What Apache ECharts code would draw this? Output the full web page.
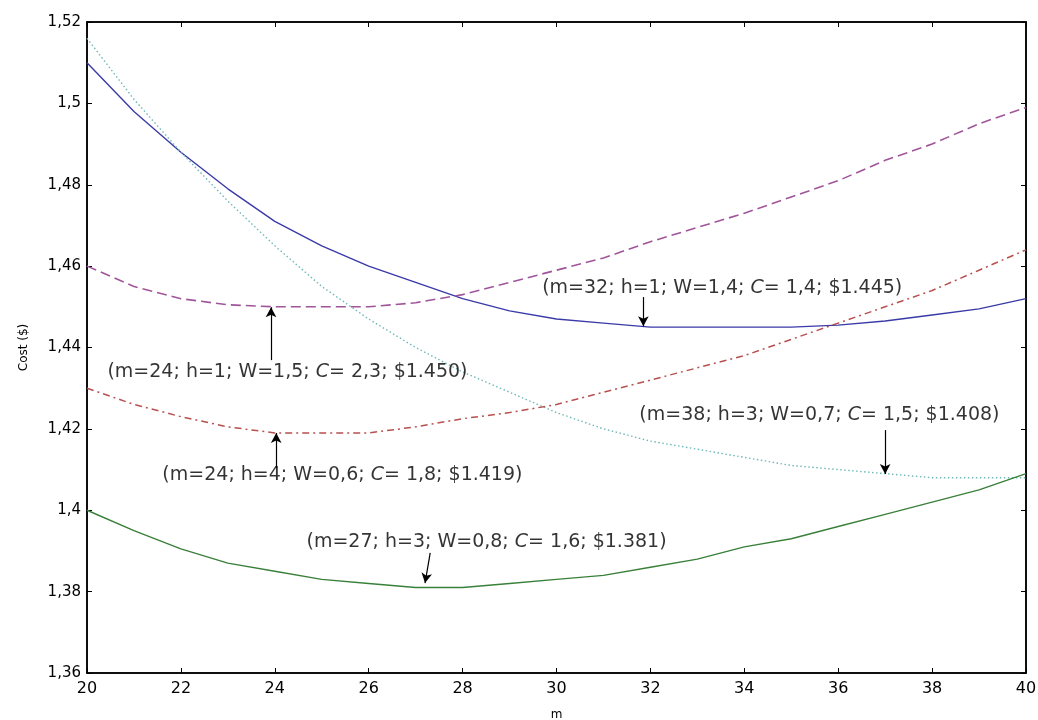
<!DOCTYPE html>
<html>
<head>
<meta charset="utf-8">
<script src="https://cdn.jsdelivr.net/npm/echarts@6/dist/echarts.min.js"></script>
<style>
  html, body { margin: 0; padding: 0; background: #fff; }
  #chart { width: 1038px; height: 720px; }
</style>
</head>
<body>
<div id="chart"></div>
<script>
// ---- Data ----
const mValues = [20,21,22,23,24,25,26,27,28,29,30,31,32,33,34,35,36,37,38,39,40];

const blueSolid   = [1.510,1.498,1.488,1.479,1.471,1.465,1.460,1.456,1.452,1.449,1.447,1.446,1.445,1.445,1.445,1.445,1.4455,1.4465,1.448,1.4495,1.452];
const cyanDotted  = [1.516,1.501,1.488,1.476,1.465,1.455,1.447,1.440,1.434,1.429,1.424,1.420,1.417,1.415,1.413,1.411,1.410,1.409,1.408,1.408,1.408];
const magentaDash = [1.460,1.455,1.452,1.4505,1.450,1.450,1.450,1.451,1.453,1.456,1.459,1.462,1.466,1.4695,1.473,1.477,1.481,1.486,1.490,1.495,1.499];
const redDashDot  = [1.430,1.426,1.423,1.4205,1.419,1.419,1.419,1.4205,1.4225,1.424,1.426,1.429,1.432,1.435,1.438,1.442,1.446,1.450,1.454,1.459,1.464];
const greenSolid  = [1.400,1.395,1.3905,1.387,1.385,1.383,1.382,1.381,1.381,1.382,1.383,1.384,1.386,1.388,1.391,1.393,1.396,1.399,1.402,1.405,1.409];

// Annotation texts, centre positions (m, cost) and arrows (from -> to, in data units)
const annotationTexts = [
  "(m=32; h=1; W=1,4; C= 1,4; $1.445)",
  "(m=24; h=1; W=1,5; C= 2,3; $1.450)",
  "(m=24; h=4; W=0,6; C= 1,8; $1.419)",
  "(m=27; h=3; W=0,8; C= 1,6; $1.381)",
  "(m=38; h=3; W=0,7; C= 1,5; $1.408)"
];
const annotationM    = [33.53, 24.27, 25.44, 28.51, 35.60];
const annotationCost = [1.4546, 1.4340, 1.4087, 1.3922, 1.4234];
const arrowFromM    = [31.85, 23.92, 24.03, 27.31, 37.00];
const arrowFromCost = [1.4524, 1.4369, 1.4104, 1.3895, 1.4197];
const arrowToM      = [31.85, 23.92, 24.03, 27.20, 37.00];
const arrowToCost   = [1.4452, 1.4499, 1.4190, 1.3821, 1.4089];

const xTicks = { min: 20, max: 40, interval: 2 };
const yTicks = { min: 1.36, max: 1.52, interval: 0.02 };

// ---- Chart ----
const chart = echarts.init(document.getElementById('chart'), null, { renderer: 'canvas' });

const pair = arr => mValues.map((m, i) => [m, arr[i]]);
const FONT = 'DejaVu Sans';

function yFmt(v) {
  return String(parseFloat(v.toFixed(2))).replace('.', ',');
}

const annData = annotationTexts.map((t, i) => [annotationM[i], annotationCost[i], t]);
const arrows = annotationTexts.map((t, i) => [
  { coord: [arrowFromM[i], arrowFromCost[i]] },
  { coord: [arrowToM[i], arrowToCost[i]] }
]);

const axisCommon = {
  type: 'value',
  axisLine: { show: true, lineStyle: { color: '#000', width: 1.5 } },
  axisTick: { show: true, inside: true, length: 5, lineStyle: { color: '#000', width: 1 } },
  splitLine: { show: false }
};

const option = {
  backgroundColor: '#fff',
  animation: false,
  grid: {
    left: 87, right: 12, top: 22, bottom: 47,
    outerBoundsMode: 'none', containLabel: false,
    show: true, borderColor: '#000', borderWidth: 1.5
  },
  xAxis: [
    Object.assign({}, axisCommon, {
      position: 'bottom',
      min: xTicks.min, max: xTicks.max, interval: xTicks.interval,
      axisLabel: { color: '#000', fontFamily: FONT, fontSize: 16, margin: 8 },
      name: 'm', nameLocation: 'middle', nameGap: 36,
      nameTextStyle: { color: '#000', fontFamily: FONT, fontSize: 12 }
    }),
    Object.assign({}, axisCommon, {
      position: 'top',
      min: xTicks.min, max: xTicks.max, interval: xTicks.interval,
      axisLabel: { show: false }
    })
  ],
  yAxis: [
    Object.assign({}, axisCommon, {
      position: 'left',
      min: yTicks.min, max: yTicks.max, interval: yTicks.interval,
      axisLabel: { color: '#000', fontFamily: FONT, fontSize: 15, margin: 6, formatter: yFmt },
      name: 'Cost ($)', nameLocation: 'middle', nameGap: 57, nameRotate: 90,
      nameTextStyle: { color: '#000', fontFamily: FONT, fontSize: 12 }
    }),
    Object.assign({}, axisCommon, {
      position: 'right',
      min: yTicks.min, max: yTicks.max, interval: yTicks.interval,
      axisLabel: { show: false }
    })
  ],
  series: [
    {
      name: 'blue', type: 'line', data: pair(blueSolid), showSymbol: false, smooth: false,
      lineStyle: { color: '#3a3aa8', width: 1.4, type: 'solid' }, z: 3
    },
    {
      name: 'cyan', type: 'line', data: pair(cyanDotted), showSymbol: false, smooth: false,
      lineStyle: { color: '#6fb8b8', width: 1.4, type: [1.5, 2.5] }, z: 3
    },
    {
      name: 'magenta', type: 'line', data: pair(magentaDash), showSymbol: false, smooth: false,
      lineStyle: { color: '#a0559a', width: 1.6, type: [10, 5] }, z: 3
    },
    {
      name: 'red', type: 'line', data: pair(redDashDot), showSymbol: false, smooth: false,
      lineStyle: { color: '#b85050', width: 1.5, type: [7, 4, 2, 4] }, z: 3
    },
    {
      name: 'green', type: 'line', data: pair(greenSolid), showSymbol: false, smooth: false,
      lineStyle: { color: '#3a803a', width: 1.4, type: 'solid' }, z: 3
    },
    {
      name: 'annotations', type: 'scatter', data: annData, symbolSize: 0.01, silent: true, z: 5,
      label: {
        show: true, position: 'inside', color: '#000', fontFamily: FONT, fontSize: 19,
        formatter: p => p.data[2].replace('C=', '{it|C}='),
        rich: { it: { fontStyle: 'italic', fontFamily: FONT, fontSize: 19, color: '#000' } }
      },
      markLine: {
        silent: true, symbol: ['none', 'arrow'], symbolSize: [8, 10],
        lineStyle: { color: '#000', width: 1.2, type: 'solid' },
        label: { show: false },
        data: arrows
      }
    }
  ]
};

chart.setOption(option);
</script>
</body>
</html>
